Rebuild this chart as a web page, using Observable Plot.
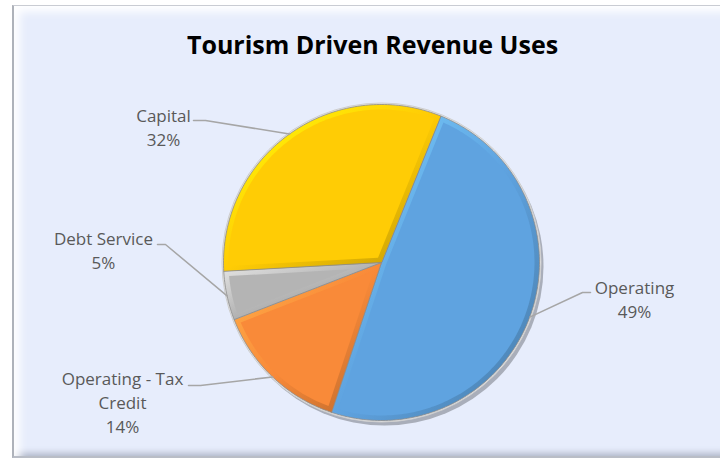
<!DOCTYPE html>
<html><head><meta charset="utf-8">
<script src="https://cdn.jsdelivr.net/npm/d3@7"></script>
<script src="https://cdn.jsdelivr.net/npm/@observablehq/plot@0.6"></script>
<style>
body{margin:0;background:#fff;}
#wrap{position:relative;width:720px;height:459px;overflow:hidden;}
#panel{position:absolute;left:12px;top:5px;width:720px;height:450px;background:#E7EDFC;
  border-left:2px solid #aeb2ba;border-top:1px solid #c9ccd3;border-bottom:2px solid #b9bdc6;
  box-shadow: inset 12px 12px 9px -6px rgba(255,255,255,0.95), inset 0 -7px 6px -4px rgba(110,120,140,0.45);}
#chart{position:absolute;left:0;top:0;}
</style></head>
<body>
<div id="wrap"><div id="panel"></div><div id="chart"></div></div>
<script>
// ---- data ----
const title = "Tourism Driven Revenue Uses";
const categories = ["Operating", "Operating - Tax Credit", "Debt Service", "Capital"];
const shares = [49, 14, 5, 32];
const labelLines = [["Operating", "49%"], ["Operating - Tax", "Credit", "14%"], ["Debt Service", "5%"], ["Capital", "32%"]];
const colors = ["#5FA3E0", "#F98A39", "#B4B4B4", "#FFCC05"];

// ---- layout ----
const W = 720, H = 459;
const cx = 381, cy = 262, R = 158;
const startAngle = 22 * Math.PI / 180;
const labelLayout = [
  {tx: 634, ty: 288, sx: 590, ex: 582, ly: 292},
  {tx: 122, ty: 379, sx: 188, ex: 200, ly: 385},
  {tx: 103, ty: 239, sx: 157, ex: 165, ly: 244},
  {tx: 163, ty: 116, sx: 193, ex: 205, ly: 120}
];
const lineGap = 24;
const font = "'Open Sans', Lato, sans-serif";

const pie = d3.pie().sort(null).startAngle(startAngle).endAngle(startAngle + 2 * Math.PI)(shares);
const pt = (a, r) => ({x: cx + r * Math.sin(a), y: cy - r * Math.cos(a)});

function wedge(i, a0, a1, r, d) {
  const pts = [];
  let apex = {x: cx, y: cy}, b0 = a0, b1 = a1, rr = r;
  if (d > 0) {
    const half = (a1 - a0) / 2, mid = (a0 + a1) / 2;
    const off = Math.min(d / Math.sin(Math.min(half, Math.PI / 2)), r * 0.5);
    apex = pt(mid, off);
    rr = r - d;
    const da = Math.asin(d / rr);
    b0 = a0 + da; b1 = a1 - da;
  }
  pts.push({i, ...apex});
  const n = Math.max(2, Math.ceil((b1 - b0) / (Math.PI / 180)));
  for (let k = 0; k <= n; ++k) pts.push({i, ...pt(b0 + (b1 - b0) * k / n, rr)});
  return pts;
}

const outer = pie.flatMap((p, i) => wedge(i, p.startAngle, p.endAngle, R, 0));
const inner = pie.flatMap((p, i) => wedge(i, p.startAngle, p.endAngle, R, 5));

const leaders = pie.flatMap((p, i) => {
  const L = labelLayout[i], m = pt((p.startAngle + p.endAngle) / 2, R);
  return [{i, x: L.sx, y: L.ly}, {i, x: L.ex, y: L.ly}, {i, x: m.x, y: m.y}];
});
const labelTexts = labelLines.flatMap((lines, i) =>
  lines.map((t, k) => ({t, x: labelLayout[i].tx, y: labelLayout[i].ty + k * lineGap})));

const gradUrls = colors.map((c, i) => `url(#bev${i})`);
const innerFill = colors;

const chart = Plot.plot({
  width: W, height: H,
  margin: 0,
  x: {type: "identity", axis: null},
  y: {type: "identity", axis: null},
  style: {background: "transparent", overflow: "visible"},
  marks: [
    Plot.dot([0], {x: cx + 3, y: cy + 4, r: R + 1, fill: "#6b6f78", fillOpacity: 0.5, ariaLabel: "shadow"}),
    Plot.dot([0], {x: cx, y: cy, r: R + 1.5, fill: "#e4e4e4", stroke: "#cfcfcf", strokeWidth: 1}),
    ...pie.map((p, i) => Plot.line(outer.filter(d => d.i === i), {x: "x", y: "y", curve: "linear-closed", fill: gradUrls[i], stroke: "#8a8a8a", strokeWidth: 0.8})),
    ...pie.map((p, i) => Plot.line(inner.filter(d => d.i === i), {x: "x", y: "y", curve: "linear-closed", fill: innerFill[i], stroke: "none"})),
    Plot.line(leaders, {x: "x", y: "y", z: "i", stroke: "#a6a6a6", strokeWidth: 1.5}),
    Plot.text(labelTexts, {x: "x", y: "y", text: "t", fill: "#595959", fontSize: 17, fontFamily: font, lineAnchor: "middle"}),
    Plot.text([title], {x: 372, y: 45, text: d => d, fill: "#000", fontSize: 25, fontWeight: "bold", fontFamily: font, lineAnchor: "middle"})
  ]
});

// gradients (bevel) and shadow blur
const svg = d3.select(chart);
const defs = svg.insert("defs", ":first-child");
colors.forEach((c, i) => {
  const g = defs.append("linearGradient").attr("id", `bev${i}`).attr("x1", 0).attr("y1", 0).attr("x2", 1).attr("y2", 1);
  g.append("stop").attr("offset", "0%").attr("stop-color", d3.color(c).brighter(0.7).formatHex());
  g.append("stop").attr("offset", "50%").attr("stop-color", c);
  g.append("stop").attr("offset", "100%").attr("stop-color", d3.color(c).darker(0.8).formatHex());
});
defs.append("filter").attr("id", "blur").attr("x", "-20%").attr("y", "-20%").attr("width", "140%").attr("height", "140%")
  .append("feGaussianBlur").attr("stdDeviation", 3);
svg.select('[aria-label="shadow"]').attr("filter", "url(#blur)");

document.getElementById("chart").appendChild(chart);
</script>
</body></html>
